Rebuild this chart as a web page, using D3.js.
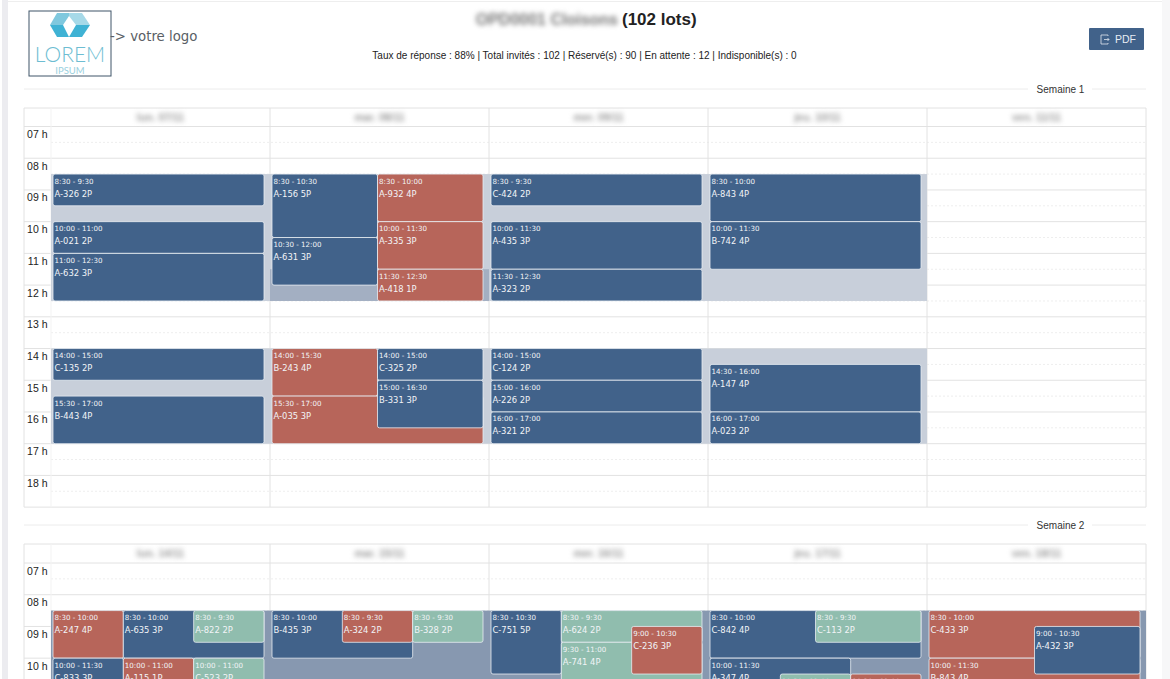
<!DOCTYPE html>
<html>
<head>
<meta charset="utf-8">
<script src="https://cdn.jsdelivr.net/npm/d3@7"></script>
<style>
html, body { margin: 0; padding: 0; background: #fff; overflow: hidden; }
svg { display: block; font-family: "Liberation Sans", Arial, sans-serif; }
.blurred { filter: blur(2.4px); }
</style>
</head>
<body>
<script>
// week headers, hour ticks
var week1Days = ["lun. 07/11", "mar. 08/11", "mer. 09/11", "jeu. 10/11", "ven. 11/11"];
var week2Days = ["lun. 14/11", "mar. 15/11", "mer. 16/11", "jeu. 17/11", "ven. 18/11"];
var hourTicks = [7, 8, 9, 10, 11, 12, 13, 14, 15, 16, 17, 18];

// availability bands: [day, start, end, darkness]
var week1Bands = [
    [0, 8.5, 12.5, 1], [0, 14, 17, 1],
    [1, 8.5, 12.5, 1], [1, 11.5, 12.5, 2], [1, 14, 17, 1],
    [2, 8.5, 12.5, 1], [2, 14, 17, 1],
    [3, 8.5, 12.5, 1], [3, 14, 17, 1]
];
var week2Bands = [
    [0, 8.5, 12.5, 3], [1, 8.5, 12.5, 3], [2, 8.5, 12.5, 3], [3, 8.5, 12.5, 3], [4, 8.5, 12.5, 3]
];

// events: [day, start, end, lane, lanes wide, of lanes, code, status]
var week1Events = [
    [0, 8.5, 9.5, 0, 1, 1, "A-326 2P", "reserve"],
    [0, 10, 11, 0, 1, 1, "A-021 2P", "reserve"],
    [0, 11, 12.5, 0, 1, 1, "A-632 3P", "reserve"],
    [0, 14, 15, 0, 1, 1, "C-135 2P", "reserve"],
    [0, 15.5, 17, 0, 1, 1, "B-443 4P", "reserve"],
    [1, 8.5, 10.5, 0, 1, 2, "A-156 5P", "reserve"],
    [1, 10.5, 12, 0, 1, 2, "A-631 3P", "reserve"],
    [1, 8.5, 10, 1, 1, 2, "A-932 4P", "attente"],
    [1, 10, 11.5, 1, 1, 2, "A-335 3P", "attente"],
    [1, 11.5, 12.5, 1, 1, 2, "A-418 1P", "attente"],
    [1, 14, 15.5, 0, 1, 2, "B-243 4P", "attente"],
    [1, 15.5, 17, 0, 2, 2, "A-035 3P", "attente"],
    [1, 14, 15, 1, 1, 2, "C-325 2P", "reserve"],
    [1, 15, 16.5, 1, 1, 2, "B-331 3P", "reserve"],
    [2, 8.5, 9.5, 0, 1, 1, "C-424 2P", "reserve"],
    [2, 10, 11.5, 0, 1, 1, "A-435 3P", "reserve"],
    [2, 11.5, 12.5, 0, 1, 1, "A-323 2P", "reserve"],
    [2, 14, 15, 0, 1, 1, "C-124 2P", "reserve"],
    [2, 15, 16, 0, 1, 1, "A-226 2P", "reserve"],
    [2, 16, 17, 0, 1, 1, "A-321 2P", "reserve"],
    [3, 8.5, 10, 0, 1, 1, "A-843 4P", "reserve"],
    [3, 10, 11.5, 0, 1, 1, "B-742 4P", "reserve"],
    [3, 14.5, 16, 0, 1, 1, "A-147 4P", "reserve"],
    [3, 16, 17, 0, 1, 1, "A-023 2P", "reserve"]
];
var week2Events = [
    [0, 8.5, 10, 0, 1, 3, "A-247 4P", "attente"],
    [0, 8.5, 10, 1, 2, 3, "A-635 3P", "reserve"],
    [0, 8.5, 9.5, 2, 1, 3, "A-822 2P", "option"],
    [0, 10, 11.5, 0, 1, 3, "C-833 3P", "reserve"],
    [0, 10, 11, 1, 1, 3, "A-115 1P", "attente"],
    [0, 10, 11, 2, 1, 3, "C-523 2P", "option"],
    [1, 8.5, 10, 0, 2, 3, "B-435 3P", "reserve"],
    [1, 8.5, 9.5, 1, 1, 3, "A-324 2P", "attente"],
    [1, 8.5, 9.5, 2, 1, 3, "B-328 2P", "option"],
    [2, 8.5, 10.5, 0, 1, 3, "C-751 5P", "reserve"],
    [2, 8.5, 9.5, 1, 2, 3, "A-624 2P", "option"],
    [2, 9.5, 11, 1, 2, 3, "A-741 4P", "option"],
    [2, 9, 10.5, 2, 1, 3, "C-236 3P", "attente"],
    [3, 8.5, 10, 0, 3, 3, "C-842 4P", "reserve"],
    [3, 8.5, 9.5, 1.5, 1.5, 3, "C-113 2P", "option"],
    [3, 10, 11.5, 0, 2, 3, "A-347 4P", "reserve"],
    [3, 10.5, 12, 1, 1, 3, "B-214 2P", "option"],
    [3, 10.5, 12, 2, 1, 3, "A-518 2P", "attente"],
    [4, 8.5, 10, 0, 2, 2, "C-433 3P", "attente"],
    [4, 10, 11.5, 0, 2, 2, "B-843 4P", "attente"],
    [4, 9, 10.5, 1, 1, 2, "A-432 3P", "reserve"]
];

var statusColor = d3.scaleOrdinal()
    .domain(["reserve", "attente", "option"])
    .range(["#41628a", "#b7655a", "#90bdae"]);
var bandColor = d3.scaleOrdinal()
    .domain([1, 2, 3])
    .range(["#c8cfda", "#a3afc2", "#8798b0"]);

var width = 1170, height = 679;

var svg = d3.select("body").append("svg")
    .attr("width", width)
    .attr("height", height);

//page frame
svg.append("rect").attr("x", 2).attr("y", 0).attr("width", 6).attr("height", height).attr("fill", "#ececf0");
svg.append("rect").attr("x", 1162).attr("y", 0).attr("width", 8).attr("height", height).attr("fill", "#f7f7f8");
svg.append("line").attr("x1", 8).attr("x2", 1162).attr("y1", 1.5).attr("y2", 1.5).attr("stroke", "#eeeeee");

drawHeader();
drawWeek("Semaine 1", 89, 108, 126.5, week1Days, week1Bands, week1Events);
drawWeek("Semaine 2", 525, 544, 563, week2Days, week2Bands, week2Events);

function drawHeader(){
    //logo box
    var logo = svg.append("g").attr("transform", "translate(29,11)");
    logo.append("rect").attr("x", 0).attr("y", 0).attr("width", 82).attr("height", 65)
        .attr("fill", "#fff").attr("stroke", "#3f5568").attr("stroke-width", 1);
    logo.append("polygon").attr("points", "28,2 40,2 40,5 34,14 21,14").attr("fill", "#7fc8de");
    logo.append("polygon").attr("points", "40,2 53,2 61,14 47,14 40,5").attr("fill", "#a6d9e8");
    logo.append("polygon").attr("points", "21,14 34,14 40,26 28,26").attr("fill", "#3fb2d4");
    logo.append("polygon").attr("points", "47,14 61,14 53,26 40,26").attr("fill", "#3fb2d4");
    logo.append("text").attr("x", 41).attr("y", 51).attr("text-anchor", "middle")
        .attr("font-family", "Lato").attr("font-size", 21).attr("font-weight", 300).attr("fill", "#6dbdd2").text("LOREM");
    logo.append("text").attr("x", 41).attr("y", 63).attr("text-anchor", "middle")
        .attr("font-family", "Lato").attr("font-size", 9.5).attr("fill", "#9ad0de").text("IPSUM");

    svg.append("text").attr("x", 110).attr("y", 41)
        .attr("font-family", "DejaVu Sans").attr("font-size", 13.3).attr("fill", "#5a5f66").text("-> votre logo");

    //title, project name is blurred out
    svg.append("text").attr("class", "blurred").attr("x", 618).attr("y", 25).attr("text-anchor", "end")
        .attr("font-size", 16).attr("font-weight", "bold").attr("fill", "#777").text("OPD0001 Cloisons");
    svg.append("text").attr("x", 622).attr("y", 25)
        .attr("font-size", 17).attr("font-weight", "bold").attr("fill", "#222").text("(102 lots)");

    svg.append("text").attr("x", 584.5).attr("y", 58.5).attr("text-anchor", "middle")
        .attr("font-size", 10).attr("fill", "#222")
        .text("Taux de réponse : 88% | Total invités : 102 | Réservé(s) : 90 | En attente : 12 | Indisponible(s) : 0");

    //pdf button
    var button = svg.append("g").attr("transform", "translate(1089,28)");
    button.append("rect").attr("width", 55).attr("height", 22).attr("rx", 1).attr("fill", "#41628a");
    button.append("path").attr("d", "M19,8 V7 H12 V16 H19 V15 M15,11.5 H20 M18.5,10 L20,11.5 L18.5,13")
        .attr("fill", "none").attr("stroke", "#dfe6ee").attr("stroke-width", 0.8);
    button.append("text").attr("x", 26).attr("y", 15)
        .attr("font-size", 10.5).attr("fill", "#e6ecf3").text("PDF");
}

function drawWeek(title, titleY, top, firstHour, days, bands, events){
    var left = 24, axisRight = 51, right = 1146;
    var hourHeight = 31.72;

    var x = d3.scaleBand().domain(d3.range(days.length)).range([axisRight, right]);
    var y = d3.scaleLinear().domain([7, 19]).range([firstHour, firstHour + 12 * hourHeight]);

    var week = svg.append("g").attr("class", "week");

    //separator with week title
    week.append("line").attr("x1", left).attr("x2", 1028).attr("y1", titleY).attr("y2", titleY).attr("stroke", "#ececec");
    week.append("line").attr("x1", 1092).attr("x2", right).attr("y1", titleY).attr("y2", titleY).attr("stroke", "#ececec");
    week.append("text").attr("x", 1060.5).attr("y", titleY + 3.5).attr("text-anchor", "middle")
        .attr("font-size", 10).attr("fill", "#333").text(title);

    //hour and half hour lines
    var halfHours = d3.range(7, 19.5, 0.5);
    week.selectAll(".gridLine")
        .data(halfHours)
        .enter()
        .append("line")
        .attr("class", "gridLine")
        .attr("x1", function(d){ return d % 1 ? axisRight : left; })
        .attr("x2", right)
        .attr("y1", function(d){ return y(d); })
        .attr("y2", function(d){ return y(d); })
        .attr("stroke", function(d){ return d % 1 ? "#eeeeee" : "#e2e2e2"; })
        .attr("stroke-dasharray", function(d){ return d % 1 ? "2,2" : null; });

    //frame and day separators
    week.append("line").attr("x1", left).attr("x2", right).attr("y1", top).attr("y2", top).attr("stroke", "#e2e2e2");
    week.selectAll(".dayLine")
        .data(d3.range(days.length + 1))
        .enter()
        .append("line")
        .attr("class", "dayLine")
        .attr("x1", function(d){ return d === days.length ? right : x(d) || axisRight; })
        .attr("x2", function(d){ return d === days.length ? right : x(d) || axisRight; })
        .attr("y1", top)
        .attr("y2", y(19))
        .attr("stroke", function(d){ return d === 0 ? "#f3f3f3" : "#e2e2e2"; });
    week.append("line").attr("x1", left).attr("x2", left).attr("y1", top).attr("y2", y(19)).attr("stroke", "#e2e2e2");

    //day labels (blurred)
    week.selectAll(".dayLabel")
        .data(days)
        .enter()
        .append("text")
        .attr("class", "dayLabel blurred")
        .attr("x", function(d, i){ return x(i) + x.bandwidth() / 2; })
        .attr("y", top + 13)
        .attr("text-anchor", "middle")
        .attr("font-size", 10.5)
        .attr("font-weight", "bold")
        .attr("fill", "#999")
        .text(function(d){ return d; });

    //hour labels
    var axis = d3.axisLeft(y)
        .tickValues(hourTicks)
        .tickSize(0)
        .tickPadding(0)
        .tickFormat(function(d){ return (d < 10 ? "0" : "") + d + " h"; });
    var axisGroup = week.append("g").attr("transform", "translate(47.5,0)").call(axis);
    axisGroup.select(".domain").remove();
    axisGroup.selectAll("text")
        .attr("dy", 11)
        .attr("font-family", "Liberation Sans")
        .attr("font-size", 10.5)
        .attr("fill", "#222");

    //availability bands
    week.selectAll(".band")
        .data(bands)
        .enter()
        .append("rect")
        .attr("class", "band")
        .attr("x", function(d){ return x(d[0]); })
        .attr("width", x.bandwidth())
        .attr("y", function(d){ return y(d[1]); })
        .attr("height", function(d){ return y(d[2]) - y(d[1]); })
        .attr("fill", function(d){ return bandColor(d[3]); });

    //events
    var inset = 2, tail = 6;
    var event = week.selectAll(".event")
        .data(events)
        .enter()
        .append("g")
        .attr("class", "event")
        .attr("transform", function(d){
            var laneWidth = (x.bandwidth() - inset - tail) / d[5];
            return "translate(" + (x(d[0]) + inset + d[3] * laneWidth) + "," + y(d[1]) + ")";
        });

    event.append("rect")
        .attr("width", function(d){ return (x.bandwidth() - inset - tail) / d[5] * d[4]; })
        .attr("height", function(d){ return y(d[2]) - y(d[1]); })
        .attr("rx", 2)
        .attr("fill", function(d){ return statusColor(d[7]); })
        .attr("stroke", "#e8edf3")
        .attr("stroke-width", 0.8);

    event.append("text")
        .attr("x", 1.5)
        .attr("y", 9.5)
        .attr("font-family", "DejaVu Sans")
        .attr("font-size", 7.1)
        .attr("fill", "#f2f4f7")
        .text(function(d){ return timeLabel(d[1]) + " - " + timeLabel(d[2]); });

    event.append("text")
        .attr("x", 1.5)
        .attr("y", 22.5)
        .attr("font-family", "DejaVu Sans")
        .attr("font-size", 8.4)
        .attr("fill", "#f2f4f7")
        .text(function(d){ return d[6]; });
}

function timeLabel(t){
    var h = Math.floor(t);
    return h + ":" + (t % 1 ? "30" : "00");
}
</script>
</body>
</html>
